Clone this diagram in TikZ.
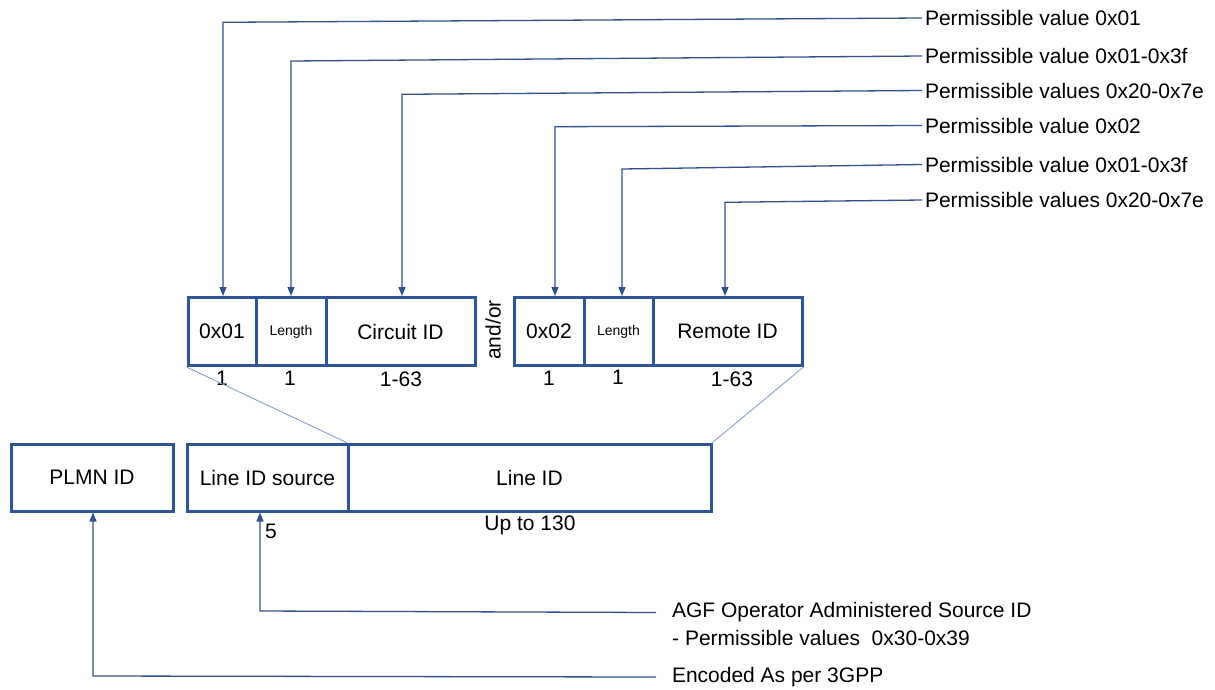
\documentclass[tikz,border=0pt]{standalone}
\usepackage{fontspec}
\setmainfont{Liberation Sans}
\usetikzlibrary{arrows.meta}
\definecolor{boxblue}{RGB}{47,85,151}
\definecolor{wireblue}{RGB}{50,80,140}
\definecolor{fanblue}{RGB}{130,160,212}

\begin{document}
\begin{tikzpicture}[x=1pt,y=-1pt,
  every node/.style={font=\fontsize{21}{24}\selectfont, inner sep=0pt},
  cell/.style={draw=boxblue, line width=3pt, outer sep=1.5pt, anchor=center},
  small/.style={font=\fontsize{14}{16}\selectfont},
  note/.style={anchor=west, outer sep=3pt},
  farnote/.style={anchor=west, outer sep=16pt},
  wire/.style={draw=wireblue, line width=1.3pt},
  wirearrow/.style={wire, -{Triangle[length=9pt,width=7pt]}},
  fan/.style={draw=fanblue, line width=0.9pt},
  size/.style={anchor=north}
]
\useasboundingbox (0,0) rectangle (1215,689);

% ---- first option block: circuit ID TLV ----
\node[cell, minimum width=68pt,  minimum height=68pt] (c1) at (222,331.5)   {0x01};
\node[cell, minimum width=70pt,  minimum height=68pt, small] (c2) at (291,331.5) {Length};
\node[cell, minimum width=149pt, minimum height=68pt] (c3) at (400.5,331.5) {Circuit ID};

\node[rotate=90] (andor) at (493,330) {and/or};

% ---- second option block: remote ID TLV ----
\node[cell, minimum width=70pt,  minimum height=68pt] (r1) at (549,331.5)   {0x02};
\node[cell, minimum width=69pt,  minimum height=68pt, small] (r2) at (618.5,331.5) {Length};
\node[cell, minimum width=149pt, minimum height=68pt] (r3) at (727.5,331.5) {Remote ID};

% field sizes
\node[size] (s1) at (222,371) {1};
\node[size] (s2) at (290,371) {1};
\node[size] (s3) at (401,372) {1-63};
\node[size] (s4) at (549,371) {1};
\node[size] (s5) at (618,370) {1};
\node[size] (s6) at (732,372) {1-63};

% ---- identifier layout ----
\node[cell, minimum width=162pt, minimum height=67pt] (plmn) at (92,477.5)    {PLMN ID};
\node[cell, minimum width=161pt, minimum height=67pt] (src)  at (267.5,477.5) {Line ID source};
\node[cell, minimum width=363pt, minimum height=67pt] (lid)  at (529.5,477.5) {Line ID};

\node (n5)  at (271,531) {5};
\node (n130) at (530,525) {Up to 130};

% expansion of the Line ID field
\draw[fan] (c1.south west) -- (lid.north west);
\draw[fan] (r3.south east) -- (lid.north east);

% ---- value annotations ----
\node[note] (l1) at (922,18)    {Permissible value 0x01};
\node[note] (l2) at (922,56)    {Permissible value 0x01-0x3f};
\node[note] (l3) at (922,90.5)  {Permissible values 0x20-0x7e};
\node[note] (l4) at (922,125.5) {Permissible value 0x02};
\node[note] (l5) at (922,164.5) {Permissible value 0x01-0x3f};
\node[note] (l6) at (922,200)   {Permissible values 0x20-0x7e};

\coordinate (k1) at (223,22.3);
\coordinate (k2) at (291,61);
\coordinate (k3) at (402,94.3);
\coordinate (k4) at (555,126.7);
\coordinate (k5) at (622,169);
\coordinate (k6) at (725,202.3);

\draw[wirearrow] (l1.west) -- (k1) -- (k1 |- c1.north);
\draw[wirearrow] (l2.west) -- (k2) -- (k2 |- c2.north);
\draw[wirearrow] (l3.west) -- (k3) -- (k3 |- c3.north);
\draw[wirearrow] (l4.west) -- (k4) -- (k4 |- r1.north);
\draw[wirearrow] (l5.west) -- (k5) -- (k5 |- r2.north);
\draw[wirearrow] (l6.west) -- (k6) -- (k6 |- r3.north);

% ---- source and PLMN annotations ----
\node[farnote] (agf)  at (656,612.5) {AGF Operator Administered Source ID};
\node[anchor=west] (agf2) at (672,637.5) {- Permissible values \ 0x30-0x39};
\node[farnote] (enc)  at (656,677)   {Encoded As per 3GPP};

\coordinate (m1) at (260,611);
\coordinate (m2) at (93,676);
\draw[wirearrow] (agf.west) -- (m1) -- (m1 |- src.south);
\draw[wirearrow] (enc.west) -- (m2) -- (m2 |- plmn.south);
\end{tikzpicture}
\end{document}
